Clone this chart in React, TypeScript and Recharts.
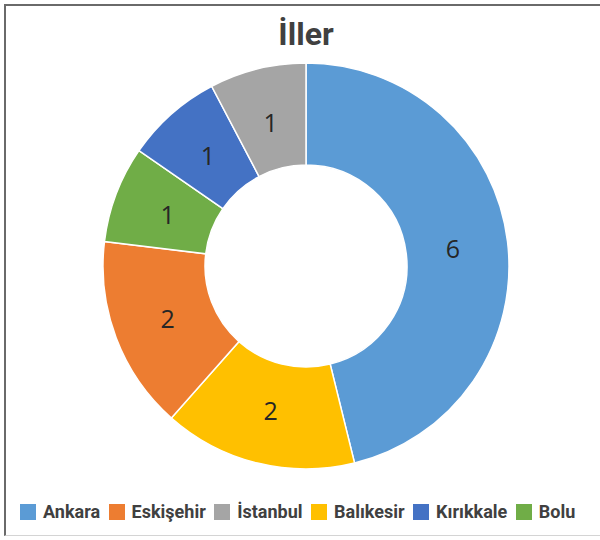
import { PieChart, Pie, Cell } from 'recharts';

// slice order = drawing order (clockwise from 12 o'clock)
const cities = ['Ankara', 'Balıkesir', 'Eskişehir', 'Bolu', 'Kırıkkale', 'İstanbul'];
const counts = [6, 2, 2, 1, 1, 1];
const cityColors = ['#5B9BD5', '#FFC000', '#ED7D31', '#70AD47', '#4472C4', '#A5A5A5'];

// legend shows them in the sheet order
const legendOrder = ['Ankara', 'Eskişehir', 'İstanbul', 'Balıkesir', 'Kırıkkale', 'Bolu'];

const chartData = cities.map((name, i) => ({ name, value: counts[i], color: cityColors[i] }));

const RADIAN = Math.PI / 180;

const renderLabel = ({ cx, cy, midAngle, innerRadius, outerRadius, value }: any) => {
  const r = (innerRadius + outerRadius) / 2 - 4;
  const x = cx + r * Math.cos(-midAngle * RADIAN);
  const y = cy + r * Math.sin(-midAngle * RADIAN);
  return (
    <text
      x={x}
      y={y}
      fill="#262626"
      fontSize={25}
      fontFamily="'Open Sans', sans-serif"
      textAnchor="middle"
      dominantBaseline="central"
    >
      {value}
    </text>
  );
};

const CityLegend = () => (
  <div
    style={{
      position: 'absolute',
      left: 20,
      top: 512,
      transform: 'translateY(-50%)',
      display: 'flex',
      alignItems: 'center',
      fontFamily: 'Roboto, sans-serif',
      fontWeight: 700,
      fontSize: 18,
      lineHeight: '20px',
      color: '#404040',
      whiteSpace: 'nowrap',
    }}
  >
    {legendOrder.map((name) => {
      const entry = chartData.find((d) => d.name === name)!;
      return (
        <div key={name} style={{ display: 'flex', alignItems: 'center', marginRight: 8.5 }}>
          <span style={{ width: 16, height: 16, background: entry.color, display: 'inline-block', marginRight: 7 }} />
          <span>{name}</span>
        </div>
      );
    })}
  </div>
);

export default function App() {
  return (
    <div style={{ position: 'absolute', left: 0, top: 0, width: 600, height: 540, background: '#fff', overflow: 'hidden' }}>
      <div
        style={{
          position: 'absolute',
          left: 4,
          top: 4,
          width: 620,
          height: 532,
          borderTop: '2px solid #6a6a6a',
          borderLeft: '2px solid #6a6a6a',
          borderBottom: '1px solid #d4d4d4',
          boxSizing: 'border-box',
        }}
      />
      <PieChart width={600} height={540} margin={{ top: 0, right: 0, bottom: 0, left: 0 }} style={{ position: 'absolute', left: 0, top: 0 }}>
        <text
          x={306}
          y={45}
          textAnchor="middle"
          fontFamily="Roboto, sans-serif"
          fontWeight={700}
          fontSize={32}
          fill="#404040"
        >
          İller
        </text>
        <Pie
          data={chartData}
          dataKey="value"
          nameKey="name"
          cx={306}
          cy={266}
          innerRadius={101}
          outerRadius={203}
          startAngle={90}
          endAngle={-270}
          stroke="#ffffff"
          strokeWidth={1.5}
          labelLine={false}
          label={renderLabel}
          isAnimationActive={false}
        >
          {chartData.map((entry, index) => (
            <Cell key={`cell-${index}`} fill={entry.color} />
          ))}
        </Pie>
      </PieChart>
      <CityLegend />
    </div>
  );
}
